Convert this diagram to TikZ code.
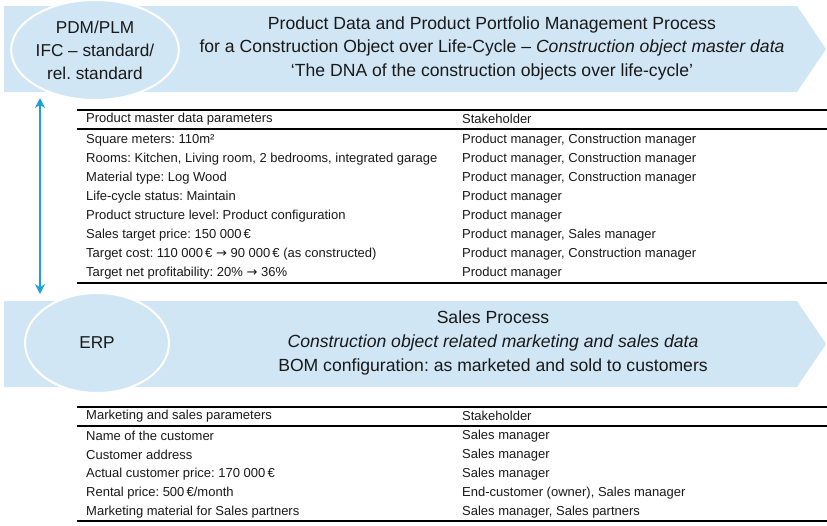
\documentclass[tikz,border=0pt]{standalone}
\usepackage{fontspec}
\setmainfont{Liberation Sans}
\newfontfamily\arrowfont{DejaVu Sans}
\usetikzlibrary{shapes.geometric,arrows.meta}
\definecolor{bannerblue}{RGB}{208,230,245}
\definecolor{arrowcyan}{RGB}{27,161,219}
\definecolor{txt}{RGB}{25,25,25}
\newcommand{\rarr}{{\arrowfont →}}
\frenchspacing
\begin{document}
\begin{tikzpicture}[x=1pt,y=-1pt,
  banner/.style={fill=bannerblue,draw=none},
  sysell/.style={ellipse,fill=bannerblue,draw=white,line width=2pt,inner sep=0pt,
    minimum width=144pt,minimum height=100pt,align=center,
    font=\fontsize{17.2}{23}\selectfont,text=txt},
  bantext/.style={align=center,inner sep=0pt,font=\fontsize{17.6}{23.5}\selectfont,text=txt},
  cell/.style={anchor=west,inner sep=0pt,font=\fontsize{13}{15}\selectfont,text=txt},
  thick rule/.style={line width=2pt,black},
  mid rule/.style={line width=1.6pt,black},
  link/.style={draw=arrowcyan,line width=2.8pt,{Stealth[length=10pt,width=10pt]}-{Stealth[length=10pt,width=10pt]}}
]
\useasboundingbox (0,0) rectangle (827,525);
% top banner
\path[banner] (4,6) -- (797,6) -- (826,49) -- (797,92) -- (4,92) -- cycle;
\node[sysell] (pdm) at (95,50) {PDM/PLM\\IFC -- standard/\\rel. standard};
\node[bantext] (t1) at (492,48) {Product Data and Product Portfolio Management Process\\
  for a Construction Object over Life-Cycle -- \textit{Construction object master data}\\
  ‘The DNA of the construction objects over life-cycle’};
% bottom banner
\path[banner] (4,301) -- (797,301) -- (826,344) -- (797,387) -- (4,387) -- cycle;
\node[sysell] (erp) at (97,343) {ERP};
\node[bantext,font=\fontsize{17.6}{24}\selectfont] (t2) at (493,343) {Sales Process\\
  \textit{Construction object related marketing and sales data}\\
  BOM configuration: as marketed and sold to customers};
% link
\coordinate (la) at (40,98);
\coordinate (lb) at (40,294);
\draw[link] (la) -- (lb);
% table 1
\coordinate (r1l) at (77,110); \coordinate (r1r) at (827,110);
\coordinate (r2l) at (77,129); \coordinate (r2r) at (827,129);
\coordinate (r3l) at (77,283); \coordinate (r3r) at (827,283);
\draw[thick rule] (r1l) -- (r1r);
\draw[mid rule] (r2l) -- (r2r);
\draw[thick rule] (r3l) -- (r3r);
\node[cell] (h1a) at (86,119) {Product master data parameters};
\node[cell] (h1b) at (462,119) {Stakeholder};
\node[cell] (a1) at (86,140) {Square meters: 110m²};
\node[cell] (b1) at (462,140) {Product manager, Construction manager};
\node[cell] (a2) at (86,159) {Rooms: Kitchen, Living room, 2 bedrooms, integrated garage};
\node[cell] (b2) at (462,159) {Product manager, Construction manager};
\node[cell] (a3) at (86,178) {Material type: Log Wood};
\node[cell] (b3) at (462,178) {Product manager, Construction manager};
\node[cell] (a4) at (86,197) {Life-cycle status: Maintain};
\node[cell] (b4) at (462,197) {Product manager};
\node[cell] (a5) at (86,216) {Product structure level: Product configuration};
\node[cell] (b5) at (462,216) {Product manager};
\node[cell] (a6) at (86,235) {Sales target price: 150 000\,€};
\node[cell] (b6) at (462,235) {Product manager, Sales manager};
\node[cell] (a7) at (86,254) {Target cost: 110 000\,€ \rarr{} 90 000\,€ (as constructed)};
\node[cell] (b7) at (462,254) {Product manager, Construction manager};
\node[cell] (a8) at (86,273) {Target net profitability: 20\% \rarr{} 36\%};
\node[cell] (b8) at (462,273) {Product manager};
% table 2
\coordinate (s1l) at (77,407); \coordinate (s1r) at (827,407);
\coordinate (s2l) at (77,426); \coordinate (s2r) at (827,426);
\coordinate (s3l) at (77,521); \coordinate (s3r) at (827,521);
\draw[thick rule] (s1l) -- (s1r);
\draw[mid rule] (s2l) -- (s2r);
\draw[thick rule] (s3l) -- (s3r);
\node[cell] (h2a) at (86,416) {Marketing and sales parameters};
\node[cell] (h2b) at (462,416) {Stakeholder};
\node[cell] (c1) at (86,436) {Name of the customer};
\node[cell] (d1) at (462,436) {Sales manager};
\node[cell] (c2) at (86,455) {Customer address};
\node[cell] (d2) at (462,455) {Sales manager};
\node[cell] (c3) at (86,474) {Actual customer price: 170 000\,€};
\node[cell] (d3) at (462,474) {Sales manager};
\node[cell] (c4) at (86,493) {Rental price: 500\,€/month};
\node[cell] (d4) at (462,493) {End-customer (owner), Sales manager};
\node[cell] (c5) at (86,512) {Marketing material for Sales partners};
\node[cell] (d5) at (462,512) {Sales manager, Sales partners};
\end{tikzpicture}
\end{document}
